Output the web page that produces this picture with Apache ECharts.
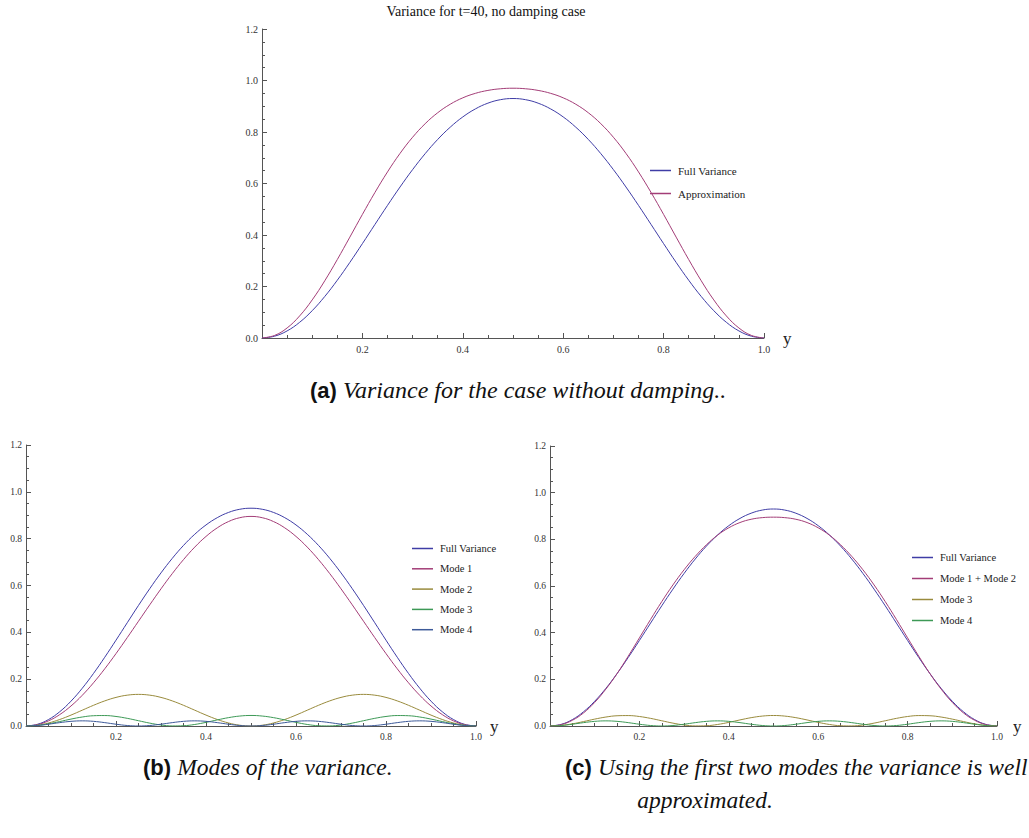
<!DOCTYPE html>
<html>
<head>
<meta charset="utf-8">
<title>Variance for t=40, no damping case</title>
<script src="https://cdn.jsdelivr.net/npm/echarts@6/dist/echarts.min.js"></script>
<style>
  html, body { margin: 0; padding: 0; background: #ffffff; }
  body { width: 1029px; height: 838px; position: relative; overflow: hidden; }
  .panel { position: absolute; }
</style>
</head>
<body>
<div id="panelA" class="panel" style="left:0;top:0;width:1029px;height:410px;"></div>
<div id="panelB" class="panel" style="left:0;top:410px;width:514px;height:428px;"></div>
<div id="panelC" class="panel" style="left:514px;top:410px;width:515px;height:428px;"></div>
<script>
// Sample positions along y (0 .. 1, step 0.025)
const ys = [0, 0.025, 0.05, 0.075, 0.1, 0.125, 0.15, 0.175, 0.2, 0.225, 0.25, 0.275, 0.3, 0.325, 0.35, 0.375,
  0.4, 0.425, 0.45, 0.475, 0.5, 0.525, 0.55, 0.575, 0.6, 0.625, 0.65, 0.675, 0.7, 0.725, 0.75, 0.775,
  0.8, 0.825, 0.85, 0.875, 0.9, 0.925, 0.95, 0.975, 1];

// Full variance at t = 40
const fullVariance = [0, 0.0070, 0.0275, 0.0610, 0.1061, 0.1612, 0.2244, 0.2936, 0.3665, 0.4410, 0.5150,
  0.5865, 0.6539, 0.7158, 0.7711, 0.8188, 0.8585, 0.8896, 0.9120, 0.9255, 0.9300,
  0.9255, 0.9120, 0.8896, 0.8585, 0.8188, 0.7711, 0.7158, 0.6539, 0.5865, 0.5150,
  0.4410, 0.3665, 0.2936, 0.2244, 0.1612, 0.1061, 0.0610, 0.0275, 0.0070, 0];

// Approximation of the variance
const approximation = [0, 0.0099, 0.0390, 0.0858, 0.1479, 0.2221, 0.3047, 0.3918, 0.4799, 0.5652, 0.6450,
  0.7170, 0.7796, 0.8322, 0.8748, 0.9079, 0.9327, 0.9501, 0.9615, 0.9679, 0.9700,
  0.9679, 0.9615, 0.9501, 0.9327, 0.9079, 0.8748, 0.8322, 0.7796, 0.7170, 0.6450,
  0.5652, 0.4799, 0.3918, 0.3047, 0.2221, 0.1479, 0.0858, 0.0390, 0.0099, 0];

// Individual modes
const mode1 = [0, 0.0055, 0.0219, 0.0488, 0.0855, 0.1311, 0.1845, 0.2443, 0.3092, 0.3775, 0.4475,
  0.5175, 0.5858, 0.6507, 0.7105, 0.7639, 0.8095, 0.8462, 0.8731, 0.8895, 0.8950,
  0.8895, 0.8731, 0.8462, 0.8095, 0.7639, 0.7105, 0.6507, 0.5858, 0.5175, 0.4475,
  0.3775, 0.3092, 0.2443, 0.1845, 0.1311, 0.0855, 0.0488, 0.0219, 0.0055, 0];

const mode2 = [0, 0.0033, 0.0129, 0.0278, 0.0466, 0.0675, 0.0884, 0.1072, 0.1221, 0.1317, 0.1350,
  0.1317, 0.1221, 0.1072, 0.0884, 0.0675, 0.0466, 0.0278, 0.0129, 0.0033, 0,
  0.0033, 0.0129, 0.0278, 0.0466, 0.0675, 0.0884, 0.1072, 0.1221, 0.1317, 0.1350,
  0.1317, 0.1221, 0.1072, 0.0884, 0.0675, 0.0466, 0.0278, 0.0129, 0.0033, 0];

const mode3 = [0, 0.0025, 0.0093, 0.0190, 0.0295, 0.0384, 0.0439, 0.0447, 0.0407, 0.0327, 0.0225,
  0.0123, 0.0043, 0.0003, 0.0011, 0.0066, 0.0155, 0.0260, 0.0357, 0.0425, 0.0450,
  0.0425, 0.0357, 0.0260, 0.0155, 0.0066, 0.0011, 0.0003, 0.0043, 0.0123, 0.0225,
  0.0327, 0.0407, 0.0447, 0.0439, 0.0384, 0.0295, 0.0190, 0.0093, 0.0025, 0];

const mode4 = [0, 0.0021, 0.0076, 0.0144, 0.0199, 0.0220, 0.0199, 0.0144, 0.0076, 0.0021, 0,
  0.0021, 0.0076, 0.0144, 0.0199, 0.0220, 0.0199, 0.0144, 0.0076, 0.0021, 0,
  0.0021, 0.0076, 0.0144, 0.0199, 0.0220, 0.0199, 0.0144, 0.0076, 0.0021, 0,
  0.0021, 0.0076, 0.0144, 0.0199, 0.0220, 0.0199, 0.0144, 0.0076, 0.0021, 0];

// Sum of the first two modes
const mode12 = [0, 0.0060, 0.0245, 0.0560, 0.1011, 0.1582, 0.2244, 0.2991, 0.3776, 0.4566, 0.5331,
  0.6046, 0.6696, 0.7271, 0.7766, 0.8181, 0.8495, 0.8720, 0.8860, 0.8930, 0.8950,
  0.8930, 0.8860, 0.8720, 0.8495, 0.8181, 0.7766, 0.7271, 0.6696, 0.6046, 0.5331,
  0.4566, 0.3776, 0.2991, 0.2244, 0.1582, 0.1011, 0.0560, 0.0245, 0.0060, 0];

const yTicks = ['0.0', '0.2', '0.4', '0.6', '0.8', '1.0', '1.2'];

// Default plot palette
const C_BLUE = '#3f3da6';
const C_RED = '#a33d77';
const C_OLIVE = '#998b3d';
const C_GREEN = '#3d9956';
const C_SLATE = '#3d5a99';

const SERIF = 'Liberation Serif';
const SANS = 'Liberation Sans';
const AXIS_GRAY = '#555555';
// Plain short stroke used as the legend key
const KEY_ICON = 'path://M0,0 L14,0 L14,1 L0,1 Z';

function pairs(values) {
  return ys.map((y, i) => [y, values[i]]);
}

function xAxisSpec(labelSize, nameGap) {
  return {
    type: 'value', min: 0, max: 1, interval: 0.2,
    name: 'y', nameLocation: 'end', nameGap: nameGap,
    nameTextStyle: { fontFamily: SERIF, fontSize: 17, color: '#222', verticalAlign: 'middle' },
    axisLine: { show: true, onZero: false, lineStyle: { color: AXIS_GRAY, width: 1 } },
    axisTick: { show: true, inside: true, length: 5, lineStyle: { color: AXIS_GRAY } },
    minorTick: { show: true, splitNumber: 4, length: 3, lineStyle: { color: AXIS_GRAY } },
    splitLine: { show: false },
    axisLabel: {
      fontFamily: SERIF, fontSize: labelSize, color: '#333', margin: 6,
      formatter: v => (v === 0 ? '' : v.toFixed(1))
    }
  };
}

function yAxisSpec(labelSize) {
  return {
    type: 'value', min: 0, max: 1.2, interval: 0.2,
    axisLine: { show: true, onZero: false, lineStyle: { color: AXIS_GRAY, width: 1 } },
    axisTick: { show: true, inside: true, length: 5, lineStyle: { color: AXIS_GRAY } },
    minorTick: { show: true, splitNumber: 4, length: 3, lineStyle: { color: AXIS_GRAY } },
    splitLine: { show: false },
    axisLabel: {
      fontFamily: SERIF, fontSize: labelSize, color: '#333', margin: 4,
      formatter: v => yTicks[Math.round(v / 0.2)]
    }
  };
}

function lineSeries(name, values, color) {
  return {
    type: 'line', name: name, data: pairs(values),
    showSymbol: false, symbol: 'none', smooth: 0.4,
    lineStyle: { color: color, width: 1 }, itemStyle: { color: color },
    emphasis: { disabled: true }, animation: false
  };
}

function legendSpec(left, top, gap, fontSize, names, colors) {
  return {
    orient: 'vertical', left: left, top: top, itemGap: gap, padding: 0,
    itemWidth: 21, itemHeight: 10, icon: KEY_ICON,
    selectedMode: false,
    textStyle: { fontFamily: SERIF, fontSize: fontSize, color: '#222', padding: [0, 0, 0, 2] },
    data: names.map((n, i) => ({ name: n, itemStyle: { color: colors[i], borderWidth: 0 } }))
  };
}

function captionRich(italicSize) {
  return {
    b: { fontFamily: SANS, fontWeight: 'bold', fontSize: 22, fill: '#111', color: '#111' },
    i: { fontFamily: SERIF, fontStyle: 'italic', fontSize: italicSize, fill: '#111', color: '#111' }
  };
}

// (a) full variance against the approximation
const chartA = echarts.init(document.getElementById('panelA'), null, { renderer: 'svg' });
chartA.setOption({
  animation: false,
  grid: { left: 262, top: 29, width: 502, height: 309 },
  xAxis: xAxisSpec(10, 19),
  yAxis: yAxisSpec(10),
  legend: legendSpec(650, 165, 12, 11, ['Full Variance', 'Approximation'], [C_BLUE, C_RED]),
  series: [
    lineSeries('Full Variance', fullVariance, C_BLUE),
    lineSeries('Approximation', approximation, C_RED)
  ],
  graphic: [
    { type: 'text', x: 486, y: 11,
      style: { text: 'Variance for t=40, no damping case', fontFamily: SERIF, fontSize: 14, fill: '#111',
        align: 'center', verticalAlign: 'middle' } },
    { type: 'text', x: 310, y: 390,
      style: { text: '{b|(a) }{i|Variance for the case without damping..}', rich: captionRich(24),
        verticalAlign: 'middle' } }
  ]
});

// (b) modes of the variance
const chartB = echarts.init(document.getElementById('panelB'), null, { renderer: 'svg' });
chartB.setOption({
  animation: false,
  grid: { left: 26, top: 35, width: 450, height: 281 },
  xAxis: xAxisSpec(9.5, 14),
  yAxis: yAxisSpec(9.5),
  legend: legendSpec(412, 133, 9.3, 10.5, ['Full Variance', 'Mode 1', 'Mode 2', 'Mode 3', 'Mode 4'],
    [C_BLUE, C_RED, C_OLIVE, C_GREEN, C_SLATE]),
  series: [
    lineSeries('Full Variance', fullVariance, C_BLUE),
    lineSeries('Mode 1', mode1, C_RED),
    lineSeries('Mode 2', mode2, C_OLIVE),
    lineSeries('Mode 3', mode3, C_GREEN),
    lineSeries('Mode 4', mode4, C_SLATE)
  ],
  graphic: [
    { type: 'text', x: 143, y: 357,
      style: { text: '{b|(b) }{i|Modes of the variance.}', rich: captionRich(23.5), verticalAlign: 'middle' } }
  ]
});

// (c) the first two modes against the full variance
const chartC = echarts.init(document.getElementById('panelC'), null, { renderer: 'svg' });
chartC.setOption({
  animation: false,
  grid: { left: 36, top: 36, width: 447, height: 280 },
  xAxis: xAxisSpec(9.5, 16),
  yAxis: yAxisSpec(9.5),
  legend: legendSpec(398, 142, 10, 10.5, ['Full Variance', 'Mode 1 + Mode 2', 'Mode 3', 'Mode 4'],
    [C_BLUE, C_RED, C_OLIVE, C_GREEN]),
  series: [
    lineSeries('Full Variance', fullVariance, C_BLUE),
    lineSeries('Mode 1 + Mode 2', mode12, C_RED),
    lineSeries('Mode 3', mode3, C_OLIVE),
    lineSeries('Mode 4', mode4, C_GREEN)
  ],
  graphic: [
    { type: 'text', x: 51, y: 357,
      style: { text: '{b|(c) }{i|Using the first two modes the variance is well}', rich: captionRich(23.5),
        verticalAlign: 'middle' } },
    { type: 'text', x: 191, y: 390,
      style: { text: '{i|approximated.}', rich: captionRich(23.5), align: 'center', verticalAlign: 'middle' } }
  ]
});
</script>
</body>
</html>
